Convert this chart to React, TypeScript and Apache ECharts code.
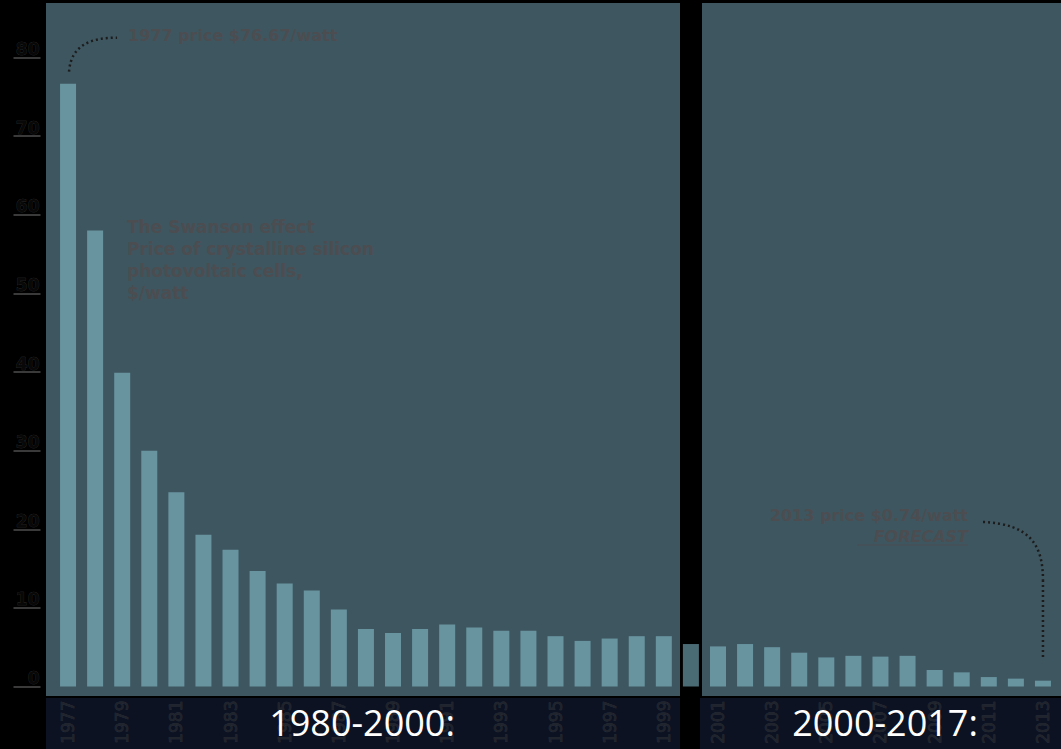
import React, { useEffect, useRef } from "react";
import * as echarts from "echarts";

const years = [
  "1977", "1978", "1979", "1980", "1981", "1982", "1983", "1984", "1985", "1986",
  "1987", "1988", "1989", "1990", "1991", "1992", "1993", "1994", "1995", "1996",
  "1997", "1998", "1999", "2000", "2001", "2002", "2003", "2004", "2005", "2006",
  "2007", "2008", "2009", "2010", "2011", "2012", "2013",
];
const prices = [
  76.67, 58.0, 39.9, 30.0, 24.7, 19.3, 17.4, 14.7, 13.1, 12.2, 9.8,
  7.3, 6.8, 7.3, 7.9, 7.5, 7.1, 7.1, 6.4, 5.8, 6.1, 6.4, 6.4,
  5.4, 5.1, 5.4, 5.0, 4.3, 3.7, 3.9, 3.8, 3.9, 2.1, 1.8, 1.2, 1.0, 0.74,
];
const gapYear = "2000";
const yTicks = [0, 10, 20, 30, 40, 50, 60, 70, 80];
const periodLabels = ["1980-2000:", "2000-2017:"];
const titleLines = [
  "The Swanson effect",
  "Price of crystalline silicon",
  "photovoltaic cells,",
  "$/watt",
];
const firstNote = "1977 price $76.67/watt";
const lastNote = "2013 price $0.74/watt";
const forecast = "FORECAST";

const PANEL = "#3e5660";
const STRIP = "#0c1221";
const BAR = "#6894a0";
const BAR_GAP = "#4b6b74";
const NOTE = "#4c4d50";
const FONT = "DejaVu Sans";

export default function App() {
  const ref = useRef<HTMLDivElement>(null);
  useEffect(() => {
    if (!ref.current) return;
    const chart = echarts.init(ref.current, null, { renderer: "svg" });
    const option: any = {
      animation: false,
      backgroundColor: "#000000",
      grid: {
        left: 54.5,
        right: 4.5,
        top: 57.5,
        bottom: 62.5,
        outerBoundsMode: "none",
      },
      xAxis: {
        type: "category",
        data: years,
        z: 5,
        axisLine: { show: false },
        axisTick: { show: false },
        axisLabel: {
          interval: 1,
          rotate: 90,
          margin: 14,
          color: "#20242c",
          fontSize: 17,
          fontFamily: FONT,
          textBorderColor: "#323741",
          textBorderWidth: 0.5,
        },
      },
      yAxis: {
        type: "value",
        min: yTicks[0],
        max: yTicks[yTicks.length - 1],
        interval: 10,
        offset: 14,
        z: 5,
        splitLine: { show: false },
        axisLine: { show: false },
        axisTick: {
          show: true,
          length: 27,
          lineStyle: { color: "#3a3a3a", width: 2 },
        },
        axisLabel: {
          margin: 1,
          verticalAlign: "bottom",
          color: "#080808",
          fontSize: 17,
          fontWeight: "bold",
          fontFamily: FONT,
          textBorderColor: "#3a3a3a",
          textBorderWidth: 0.5,
        },
      },
      series: [
        {
          type: "bar",
          z: 2,
          barWidth: 16,
          data: prices.map((v, i) =>
            years[i] === gapYear
              ? { value: v, itemStyle: { color: BAR_GAP } }
              : { value: v }
          ),
          itemStyle: { color: BAR },
        },
      ],
    };
    chart.setOption(option);

    const p0 = chart.convertToPixel({ gridIndex: 0 }, [0, prices[0]]) as number[];
    const last = years.length - 1;
    const pN = chart.convertToPixel({ gridIndex: 0 }, [last, prices[last]]) as number[];

    const dot = { stroke: "#1c1c1c", lineWidth: 2.5, lineDash: [2, 3], fill: null };

    chart.setOption({
      graphic: [
        { type: "rect", z: -1, shape: { x: 46, y: 3, width: 634, height: 693 }, style: { fill: PANEL } },
        { type: "rect", z: -1, shape: { x: 702, y: 3, width: 359, height: 693 }, style: { fill: PANEL } },
        { type: "rect", z: -1, shape: { x: 46, y: 698, width: 634, height: 51 }, style: { fill: STRIP } },
        { type: "rect", z: -1, shape: { x: 700, y: 698, width: 361, height: 51 }, style: { fill: STRIP } },
        {
          type: "bezierCurve",
          z: 10,
          shape: {
            x1: p0[0] + 1, y1: p0[1] - 12,
            cpx1: p0[0] + 3, cpy1: p0[1] - 40,
            cpx2: p0[0] + 25, cpy2: p0[1] - 46,
            x2: p0[0] + 49, y2: p0[1] - 46,
          },
          style: dot,
        },
        {
          type: "text",
          z: 10,
          x: 128,
          y: 35,
          style: {
            text: firstNote,
            fill: NOTE,
            font: `bold 16px "${FONT}"`,
            verticalAlign: "middle",
          },
        },
        {
          type: "text",
          z: 10,
          x: 127,
          y: 216,
          style: {
            text: titleLines.join("\n"),
            fill: NOTE,
            font: `bold 17px "${FONT}"`,
            lineHeight: 22,
            verticalAlign: "top",
          },
        },
        {
          type: "text",
          z: 10,
          x: 968,
          y: 515,
          style: {
            text: lastNote,
            fill: NOTE,
            font: `bold 16px "${FONT}"`,
            align: "right",
            verticalAlign: "middle",
          },
        },
        {
          type: "text",
          z: 10,
          x: 968,
          y: 536,
          style: {
            text: forecast,
            fill: NOTE,
            font: `italic bold 16px "${FONT}"`,
            align: "right",
            verticalAlign: "middle",
          },
        },
        {
          type: "line",
          z: 10,
          shape: { x1: 857, y1: 545, x2: 968, y2: 545 },
          style: { stroke: NOTE, lineWidth: 1.2 },
        },
        {
          type: "bezierCurve",
          z: 10,
          shape: {
            x1: 983, y1: 522,
            cpx1: 1030, cpy1: 524,
            cpx2: pN[0], cpy2: 545,
            x2: pN[0], y2: 580,
          },
          style: dot,
        },
        {
          type: "line",
          z: 10,
          shape: { x1: pN[0], y1: 580, x2: pN[0], y2: pN[1] - 22 },
          style: dot,
        },
        {
          type: "text",
          z: 20,
          x: 362,
          y: 722,
          style: {
            text: periodLabels[0],
            fill: "#ffffff",
            font: `36px "Open Sans"`,
            align: "center",
            verticalAlign: "middle",
          },
        },
        {
          type: "text",
          z: 20,
          x: 885,
          y: 722,
          style: {
            text: periodLabels[1],
            fill: "#ffffff",
            font: `36px "Open Sans"`,
            align: "center",
            verticalAlign: "middle",
          },
        },
      ],
    });

    return () => chart.dispose();
  }, []);

  return (
    <div
      ref={ref}
      style={{ position: "fixed", left: 0, top: 0, width: 1061, height: 749 }}
    />
  );
}
